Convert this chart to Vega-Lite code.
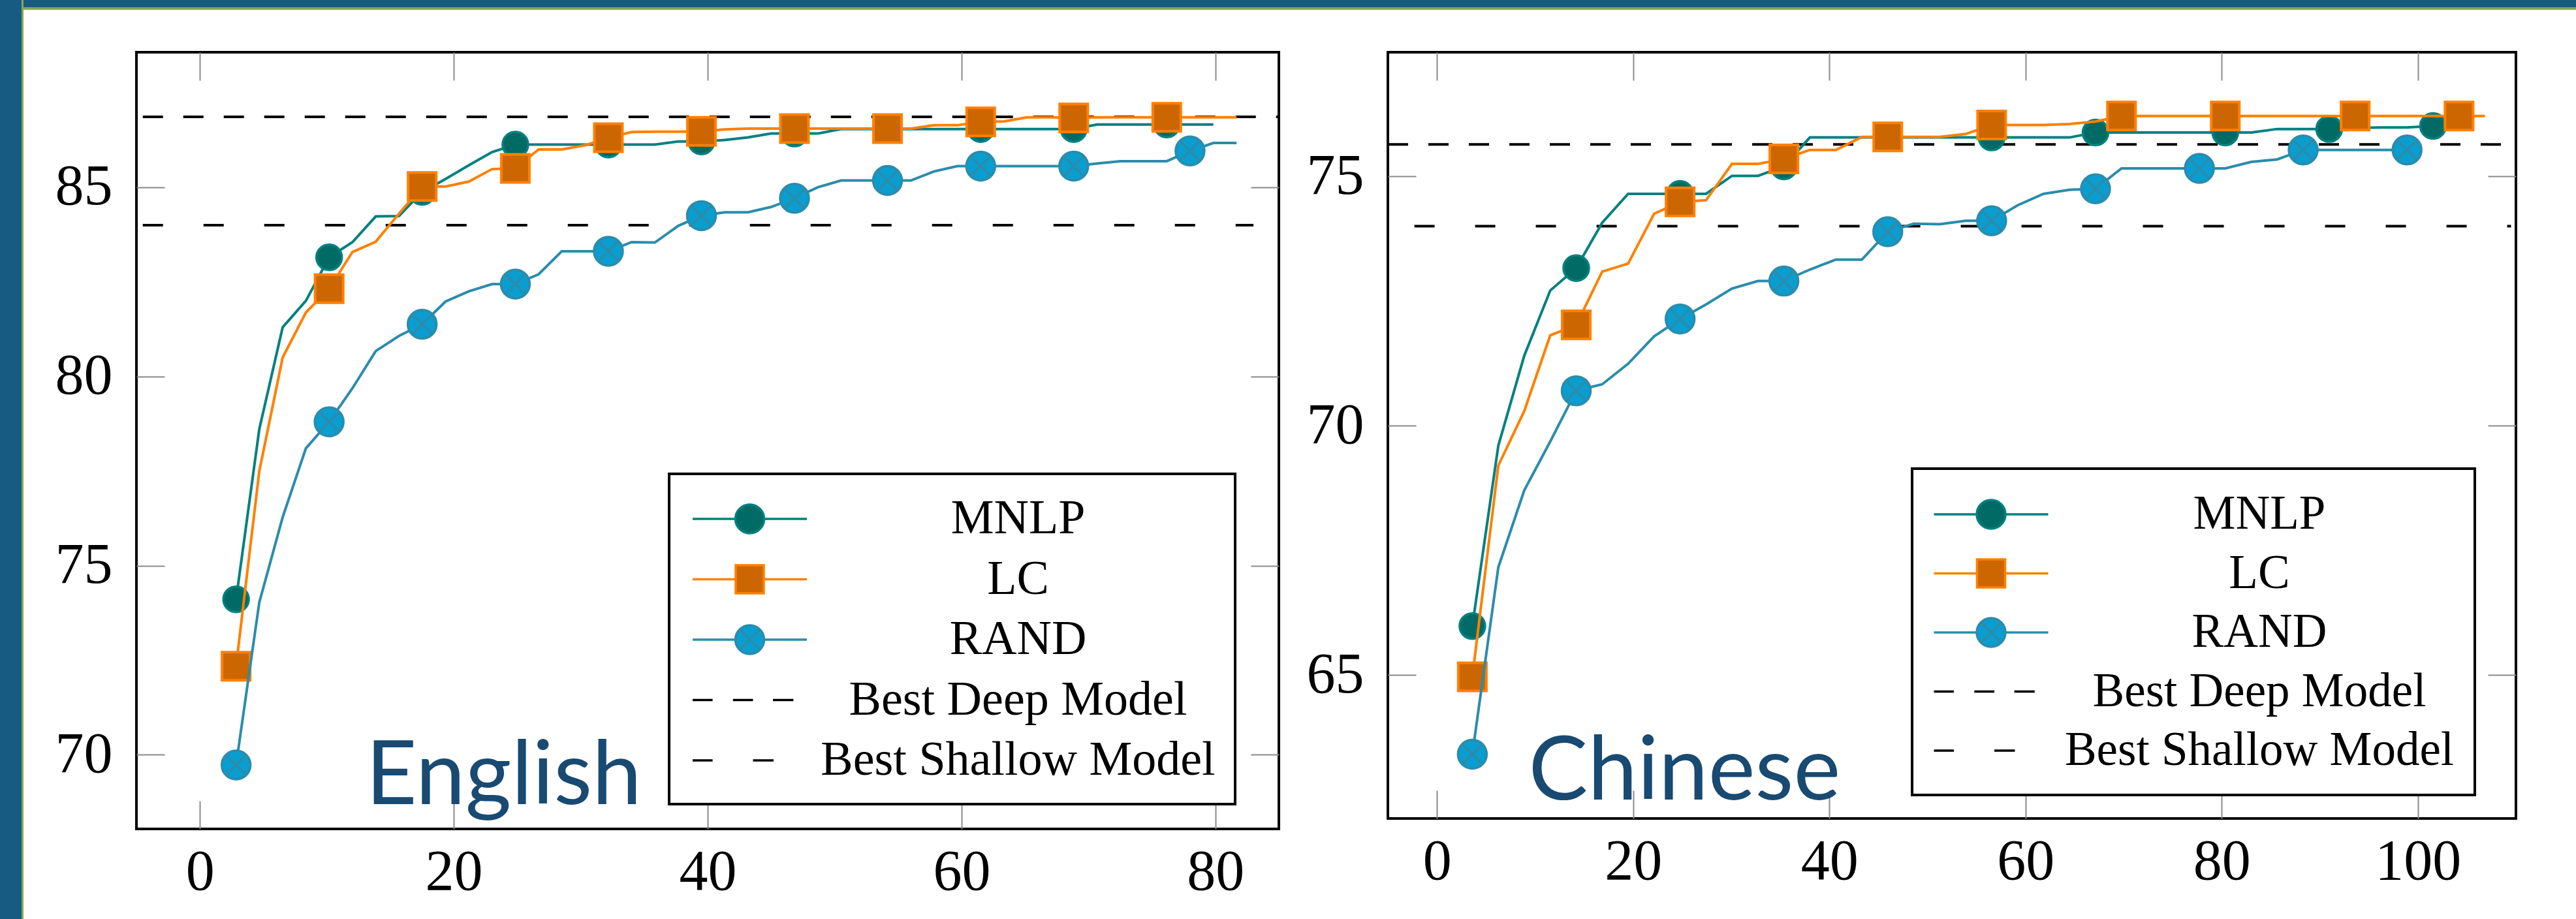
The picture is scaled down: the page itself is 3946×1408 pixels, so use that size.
{
  "$schema": "https://vega.github.io/schema/vega-lite/v6.json",
  "background": "white",
  "padding": 0,
  "config": {
    "view": {"stroke": "black", "strokeWidth": 4},
    "axis": {"grid": false, "domain": false, "tickSize": -43, "tickColor": "#8a8a8a", "tickWidth": 2, "labelFont": "Liberation Serif", "labelFontSize": 88, "labelColor": "black", "labelFlush": false, "labelOverlap": false},
    "legend": {"strokeWidth": 4}
  },
  "datasets": {
    "legend": [{"series": "MNLP"}, {"series": "LC"}, {"series": "RAND"}, {"series": "Best Deep Model"}, {"series": "Best Shallow Model"}],
    "en_ref": [{"series": "Best Deep Model", "x": -4.5, "x2": 85, "y": 86.86}, {"series": "Best Shallow Model", "x": -4.5, "x2": 83.0, "y": 84.0}],
    "zh_ref": [{"series": "Best Deep Model", "x": -5, "x2": 109.5, "y": 75.64}, {"series": "Best Shallow Model", "x": -2.3, "x2": 109.5, "y": 74.0}],
    "en_mnlp": [{"x":2.85,"y":74.11,"m":1},{"x":4.68,"y":78.61,"m":0},{"x":6.52,"y":81.3,"m":0},{"x":8.35,"y":82.0,"m":0},{"x":10.18,"y":83.15,"m":1},{"x":12.02,"y":83.55,"m":0},{"x":13.85,"y":84.23,"m":0},{"x":15.68,"y":84.24,"m":0},{"x":17.51,"y":84.88,"m":1},{"x":19.35,"y":85.22,"m":0},{"x":21.18,"y":85.58,"m":0},{"x":23.01,"y":85.93,"m":0},{"x":24.85,"y":86.13,"m":1},{"x":26.68,"y":86.13,"m":0},{"x":28.51,"y":86.13,"m":0},{"x":30.35,"y":86.13,"m":0},{"x":32.18,"y":86.13,"m":1},{"x":34.01,"y":86.13,"m":0},{"x":35.84,"y":86.13,"m":0},{"x":37.68,"y":86.21,"m":0},{"x":39.51,"y":86.21,"m":1},{"x":41.34,"y":86.25,"m":0},{"x":43.18,"y":86.32,"m":0},{"x":45.01,"y":86.42,"m":0},{"x":46.84,"y":86.42,"m":1},{"x":48.68,"y":86.42,"m":0},{"x":50.51,"y":86.54,"m":0},{"x":52.34,"y":86.54,"m":0},{"x":54.17,"y":86.54,"m":1},{"x":56.01,"y":86.54,"m":0},{"x":57.84,"y":86.54,"m":0},{"x":59.67,"y":86.54,"m":0},{"x":61.51,"y":86.54,"m":1},{"x":63.34,"y":86.54,"m":0},{"x":65.17,"y":86.54,"m":0},{"x":67.01,"y":86.54,"m":0},{"x":68.84,"y":86.54,"m":1},{"x":70.67,"y":86.66,"m":0},{"x":72.51,"y":86.66,"m":0},{"x":74.34,"y":86.66,"m":0},{"x":76.17,"y":86.66,"m":1},{"x":78.0,"y":86.66,"m":0},{"x":79.84,"y":86.66,"m":0}],
    "en_lc": [{"x":2.85,"y":72.34,"m":1},{"x":4.68,"y":77.5,"m":0},{"x":6.52,"y":80.5,"m":0},{"x":8.35,"y":81.69,"m":0},{"x":10.18,"y":82.32,"m":1},{"x":12.02,"y":83.29,"m":0},{"x":13.85,"y":83.56,"m":0},{"x":15.68,"y":84.3,"m":0},{"x":17.51,"y":85.02,"m":1},{"x":19.35,"y":85.02,"m":0},{"x":21.18,"y":85.15,"m":0},{"x":23.01,"y":85.48,"m":0},{"x":24.85,"y":85.5,"m":1},{"x":26.68,"y":86.0,"m":0},{"x":28.51,"y":86.0,"m":0},{"x":30.35,"y":86.11,"m":0},{"x":32.18,"y":86.31,"m":1},{"x":34.01,"y":86.46,"m":0},{"x":35.84,"y":86.47,"m":0},{"x":37.68,"y":86.47,"m":0},{"x":39.51,"y":86.48,"m":1},{"x":41.34,"y":86.53,"m":0},{"x":43.18,"y":86.55,"m":0},{"x":45.01,"y":86.55,"m":0},{"x":46.84,"y":86.55,"m":1},{"x":48.68,"y":86.55,"m":0},{"x":50.51,"y":86.55,"m":0},{"x":52.34,"y":86.55,"m":0},{"x":54.17,"y":86.55,"m":1},{"x":56.01,"y":86.55,"m":0},{"x":57.84,"y":86.64,"m":0},{"x":59.67,"y":86.64,"m":0},{"x":61.51,"y":86.73,"m":1},{"x":63.34,"y":86.74,"m":0},{"x":65.17,"y":86.85,"m":0},{"x":67.01,"y":86.85,"m":0},{"x":68.84,"y":86.83,"m":1},{"x":70.67,"y":86.85,"m":0},{"x":72.51,"y":86.85,"m":0},{"x":74.34,"y":86.85,"m":0},{"x":76.17,"y":86.85,"m":1},{"x":78.0,"y":86.85,"m":0},{"x":79.84,"y":86.85,"m":0},{"x":81.67,"y":86.85,"m":0}],
    "en_rand": [{"x":2.85,"y":69.73,"m":1},{"x":4.68,"y":74.03,"m":0},{"x":6.52,"y":76.28,"m":0},{"x":8.35,"y":78.1,"m":0},{"x":10.18,"y":78.8,"m":1},{"x":12.02,"y":79.69,"m":0},{"x":13.85,"y":80.67,"m":0},{"x":15.68,"y":81.07,"m":0},{"x":17.51,"y":81.38,"m":1},{"x":19.35,"y":81.98,"m":0},{"x":21.18,"y":82.25,"m":0},{"x":23.01,"y":82.44,"m":0},{"x":24.85,"y":82.44,"m":1},{"x":26.68,"y":82.7,"m":0},{"x":28.51,"y":83.31,"m":0},{"x":30.35,"y":83.31,"m":0},{"x":32.18,"y":83.31,"m":1},{"x":34.01,"y":83.55,"m":0},{"x":35.84,"y":83.54,"m":0},{"x":37.68,"y":83.98,"m":0},{"x":39.51,"y":84.25,"m":1},{"x":41.34,"y":84.34,"m":0},{"x":43.18,"y":84.34,"m":0},{"x":45.01,"y":84.48,"m":0},{"x":46.84,"y":84.71,"m":1},{"x":48.68,"y":85.0,"m":0},{"x":50.51,"y":85.18,"m":0},{"x":52.34,"y":85.18,"m":0},{"x":54.17,"y":85.18,"m":1},{"x":56.01,"y":85.18,"m":0},{"x":57.84,"y":85.42,"m":0},{"x":59.67,"y":85.56,"m":0},{"x":61.51,"y":85.56,"m":1},{"x":63.34,"y":85.56,"m":0},{"x":65.17,"y":85.56,"m":0},{"x":67.01,"y":85.56,"m":0},{"x":68.84,"y":85.56,"m":1},{"x":70.67,"y":85.63,"m":0},{"x":72.51,"y":85.69,"m":0},{"x":74.34,"y":85.69,"m":0},{"x":76.17,"y":85.69,"m":0},{"x":78.0,"y":85.96,"m":1},{"x":79.84,"y":86.17,"m":0},{"x":81.67,"y":86.17,"m":0}],
    "zh_mnlp": [{"x":3.61,"y":65.98,"m":1},{"x":6.26,"y":69.6,"m":0},{"x":8.9,"y":71.4,"m":0},{"x":11.55,"y":72.71,"m":0},{"x":14.2,"y":73.16,"m":1},{"x":16.85,"y":74.07,"m":0},{"x":19.49,"y":74.65,"m":0},{"x":22.14,"y":74.65,"m":0},{"x":24.79,"y":74.65,"m":1},{"x":27.43,"y":74.65,"m":0},{"x":30.08,"y":75.01,"m":0},{"x":32.73,"y":75.01,"m":0},{"x":35.37,"y":75.2,"m":1},{"x":38.02,"y":75.78,"m":0},{"x":40.67,"y":75.78,"m":0},{"x":43.32,"y":75.78,"m":0},{"x":45.96,"y":75.78,"m":1},{"x":48.61,"y":75.78,"m":0},{"x":51.26,"y":75.78,"m":0},{"x":53.9,"y":75.78,"m":0},{"x":56.55,"y":75.78,"m":1},{"x":59.2,"y":75.78,"m":0},{"x":61.84,"y":75.78,"m":0},{"x":64.49,"y":75.78,"m":0},{"x":67.14,"y":75.88,"m":1},{"x":69.79,"y":75.88,"m":0},{"x":72.43,"y":75.88,"m":0},{"x":75.08,"y":75.88,"m":0},{"x":77.73,"y":75.88,"m":0},{"x":80.37,"y":75.88,"m":1},{"x":83.02,"y":75.88,"m":0},{"x":85.67,"y":75.95,"m":0},{"x":88.31,"y":75.95,"m":0},{"x":90.96,"y":75.95,"m":1},{"x":93.61,"y":75.97,"m":0},{"x":96.25,"y":75.98,"m":0},{"x":98.9,"y":75.98,"m":0},{"x":101.55,"y":76.01,"m":1}],
    "zh_lc": [{"x":3.61,"y":64.96,"m":1},{"x":6.26,"y":69.2,"m":0},{"x":8.9,"y":70.29,"m":0},{"x":11.55,"y":71.81,"m":0},{"x":14.2,"y":72.02,"m":1},{"x":16.85,"y":73.09,"m":0},{"x":19.49,"y":73.25,"m":0},{"x":22.14,"y":74.25,"m":0},{"x":24.79,"y":74.49,"m":1},{"x":27.43,"y":74.52,"m":0},{"x":30.08,"y":75.25,"m":0},{"x":32.73,"y":75.25,"m":0},{"x":35.37,"y":75.35,"m":1},{"x":38.02,"y":75.53,"m":0},{"x":40.67,"y":75.53,"m":0},{"x":43.32,"y":75.79,"m":0},{"x":45.96,"y":75.79,"m":1},{"x":48.61,"y":75.79,"m":0},{"x":51.26,"y":75.79,"m":0},{"x":53.9,"y":75.85,"m":0},{"x":56.55,"y":76.03,"m":1},{"x":59.2,"y":76.03,"m":0},{"x":61.84,"y":76.03,"m":0},{"x":64.49,"y":76.05,"m":0},{"x":67.14,"y":76.1,"m":0},{"x":69.79,"y":76.21,"m":1},{"x":72.43,"y":76.21,"m":0},{"x":75.08,"y":76.21,"m":0},{"x":77.73,"y":76.21,"m":0},{"x":80.37,"y":76.21,"m":1},{"x":83.02,"y":76.21,"m":0},{"x":85.67,"y":76.21,"m":0},{"x":88.31,"y":76.21,"m":0},{"x":90.96,"y":76.21,"m":0},{"x":93.61,"y":76.21,"m":1},{"x":96.25,"y":76.21,"m":0},{"x":98.9,"y":76.21,"m":0},{"x":101.55,"y":76.21,"m":0},{"x":104.2,"y":76.21,"m":1},{"x":106.84,"y":76.21,"m":0}],
    "zh_rand": [{"x":3.61,"y":63.41,"m":1},{"x":6.26,"y":67.16,"m":0},{"x":8.9,"y":68.7,"m":0},{"x":11.55,"y":69.68,"m":0},{"x":14.2,"y":70.7,"m":1},{"x":16.85,"y":70.83,"m":0},{"x":19.49,"y":71.24,"m":0},{"x":22.14,"y":71.79,"m":0},{"x":24.79,"y":72.14,"m":1},{"x":27.43,"y":72.43,"m":0},{"x":30.08,"y":72.75,"m":0},{"x":32.73,"y":72.9,"m":0},{"x":35.37,"y":72.9,"m":1},{"x":38.02,"y":73.13,"m":0},{"x":40.67,"y":73.33,"m":0},{"x":43.32,"y":73.33,"m":0},{"x":45.96,"y":73.89,"m":1},{"x":48.61,"y":74.05,"m":0},{"x":51.26,"y":74.04,"m":0},{"x":53.9,"y":74.11,"m":0},{"x":56.55,"y":74.11,"m":1},{"x":59.2,"y":74.42,"m":0},{"x":61.84,"y":74.65,"m":0},{"x":64.49,"y":74.73,"m":0},{"x":67.14,"y":74.75,"m":1},{"x":69.79,"y":75.16,"m":0},{"x":72.43,"y":75.16,"m":0},{"x":75.08,"y":75.16,"m":0},{"x":77.73,"y":75.16,"m":1},{"x":80.37,"y":75.16,"m":0},{"x":83.02,"y":75.29,"m":0},{"x":85.67,"y":75.34,"m":0},{"x":88.31,"y":75.53,"m":1},{"x":90.96,"y":75.53,"m":0},{"x":93.61,"y":75.53,"m":0},{"x":96.25,"y":75.53,"m":0},{"x":98.9,"y":75.53,"m":1}]
  },
  "spacing": 0,
  "hconcat": [
    {"width": 33, "height": 1408, "data": {"values": [{}]}, "mark": {"type": "rect", "color": "#185b82"}, "view": {"fill": "#185b82", "stroke": null}},
    {"width": 3, "height": 1408, "data": {"values": [{}]}, "mark": {"type": "rect", "color": "#86a84c"}, "view": {"fill": "#86a84c", "stroke": null}},
    {
      "spacing": 62,
      "vconcat": [
        {
          "spacing": 0,
          "vconcat": [
            {"width": 3910, "height": 11, "data": {"values": [{}]}, "mark": {"type": "rect", "color": "#185b82"}, "view": {"fill": "#185b82", "stroke": null}},
            {"width": 3910, "height": 4, "data": {"values": [{}]}, "mark": {"type": "rect", "color": "#86a84c"}, "view": {"fill": "#86a84c", "stroke": null}}
          ]
        },
        {
          "spacing": 36,
          "resolve": {
            "scale": {"x": "independent", "y": "independent", "shape": "independent", "fill": "independent", "stroke": "independent"},
            "legend": {"shape": "independent", "fill": "independent", "stroke": "independent"}
          },
          "hconcat": [
            {"width": 10, "height": 1, "data": {"values": [{}]}, "mark": {"type": "rect", "opacity": 0}, "view": {"stroke": null}},
            {
              "width": 1750, "height": 1190,
              "view": {"fill": "white"},
              "resolve": {"axis": {"x": "independent", "y": "independent"}},
              "layer": [
                {"data": {"name": "en_ref"}, "transform": [{"filter": "datum.series == 'Best Deep Model'"}],
                 "mark": {"type": "rule", "color": "black", "strokeWidth": 4, "strokeDash": [31, 31]},
                 "encoding": {
                   "x": {"field": "x", "type": "quantitative", "scale": {"domain": [-5, 85], "nice": false, "zero": false}, "axis": {"orient": "top", "labels": false, "values": [0, 20, 40, 60, 80], "title": null}},
                   "x2": {"field": "x2"},
                   "y": {"field": "y", "type": "quantitative", "scale": {"domain": [68.04, 88.57], "nice": false, "zero": false}, "axis": {"orient": "right", "labels": false, "values": [70, 75, 80, 85], "title": null}}}},
                {"data": {"name": "en_ref"}, "transform": [{"filter": "datum.series == 'Best Shallow Model'"}],
                 "mark": {"type": "rule", "color": "black", "strokeWidth": 4, "strokeDash": [31, 62]},
                 "encoding": {
                   "x": {"field": "x", "type": "quantitative", "scale": {"domain": [-5, 85], "nice": false, "zero": false}, "axis": null},
                   "x2": {"field": "x2"},
                   "y": {"field": "y", "type": "quantitative", "scale": {"domain": [68.04, 88.57], "nice": false, "zero": false}, "axis": null}}},
                {"data": {"name": "en_mnlp"},
                 "mark": {"type": "line", "color": "#008080", "strokeWidth": 4},
                 "encoding": {
                   "x": {"field": "x", "type": "quantitative", "scale": {"domain": [-5, 85], "nice": false, "zero": false}, "axis": {"orient": "bottom", "values": [0, 20, 40, 60, 80], "title": null, "labelPadding": 65}},
                   "y": {"field": "y", "type": "quantitative", "scale": {"domain": [68.04, 88.57], "nice": false, "zero": false}, "axis": {"orient": "left", "values": [70, 75, 80, 85], "title": null, "labelPadding": 80}}}},
                {"data": {"name": "en_mnlp"}, "transform": [{"filter": "datum.m == 1"}],
                 "mark": {"type": "point", "shape": "circle", "size": 1520, "filled": true, "fill": "#006a64", "stroke": "#008080", "strokeWidth": 3.5, "opacity": 1},
                 "encoding": {
                   "x": {"field": "x", "type": "quantitative", "scale": {"domain": [-5, 85], "nice": false, "zero": false}, "axis": null},
                   "y": {"field": "y", "type": "quantitative", "scale": {"domain": [68.04, 88.57], "nice": false, "zero": false}, "axis": null}}},
                {"data": {"name": "en_lc"},
                 "mark": {"type": "line", "color": "#ff8000", "strokeWidth": 4},
                 "encoding": {
                   "x": {"field": "x", "type": "quantitative", "scale": {"domain": [-5, 85], "nice": false, "zero": false}, "axis": null},
                   "y": {"field": "y", "type": "quantitative", "scale": {"domain": [68.04, 88.57], "nice": false, "zero": false}, "axis": null}}},
                {"data": {"name": "en_lc"}, "transform": [{"filter": "datum.m == 1"}],
                 "mark": {"type": "point", "shape": "square", "size": 1849, "filled": true, "fill": "#cc6600", "stroke": "#ff8000", "strokeWidth": 4, "opacity": 1},
                 "encoding": {
                   "x": {"field": "x", "type": "quantitative", "scale": {"domain": [-5, 85], "nice": false, "zero": false}, "axis": null},
                   "y": {"field": "y", "type": "quantitative", "scale": {"domain": [68.04, 88.57], "nice": false, "zero": false}, "axis": null}}},
                {"data": {"name": "en_rand"},
                 "mark": {"type": "line", "color": "#2b8cab", "strokeWidth": 4},
                 "encoding": {
                   "x": {"field": "x", "type": "quantitative", "scale": {"domain": [-5, 85], "nice": false, "zero": false}, "axis": null},
                   "y": {"field": "y", "type": "quantitative", "scale": {"domain": [68.04, 88.57], "nice": false, "zero": false}, "axis": null}}},
                {"data": {"name": "en_rand"}, "transform": [{"filter": "datum.m == 1"}],
                 "mark": {"type": "point", "shape": "M1,0A1,1,0,1,1,-1,0A1,1,0,1,1,1,0ZM-0.707,-0.707L0.707,0.707M-0.707,0.707L0.707,-0.707", "size": 1936, "filled": true, "fill": "#0a9dcf", "stroke": "#2b8cab", "strokeWidth": 3.5, "opacity": 1},
                 "encoding": {
                   "x": {"field": "x", "type": "quantitative", "scale": {"domain": [-5, 85], "nice": false, "zero": false}, "axis": null},
                   "y": {"field": "y", "type": "quantitative", "scale": {"domain": [68.04, 88.57], "nice": false, "zero": false}, "axis": null}}},
                {"data": {"values": [{"label": "English"}]},
                 "mark": {"type": "text", "font": "Lato", "fontSize": 136, "color": "#184a72", "align": "left", "baseline": "alphabetic"},
                 "encoding": {
                   "text": {"field": "label"},
                   "x": {"datum": 13.06, "type": "quantitative", "scale": {"domain": [-5, 85], "nice": false, "zero": false}, "axis": null},
                   "y": {"datum": 68.7, "type": "quantitative", "scale": {"domain": [68.04, 88.57], "nice": false, "zero": false}, "axis": null}}},
                {"data": {"name": "legend"}, "transform": [{"filter": "datum.series == 'none'"}],
                 "mark": {"type": "point", "filled": true, "opacity": 1, "strokeWidth": 3.5},
                 "encoding": {
                   "shape": {"field": "series", "type": "nominal",
                     "scale": {"domain": ["MNLP", "LC", "RAND", "Best Deep Model", "Best Shallow Model"],
                       "range": ["M-2.365,0L-0.5946,0M0.5946,0L2.365,0M0.5946,0A0.5946,0.5946,0,1,1,-0.5946,0A0.5946,0.5946,0,1,1,0.5946,0Z",
                                 "M-2.365,0L-0.581,0M0.581,0L2.365,0M-0.581,-0.581L0.581,-0.581L0.581,0.581L-0.581,0.581Z",
                                 "M-2.365,0L-0.5946,0M0.5946,0L2.365,0M0.5946,0A0.5946,0.5946,0,1,1,-0.5946,0A0.5946,0.5946,0,1,1,0.5946,0ZM-0.4204,-0.4204L0.4204,0.4204M-0.4204,0.4204L0.4204,-0.4204",
                                 "M-2.365,0L-1.538,0M-0.695,0L0.135,0M0.962,0L1.805,0",
                                 "M-2.365,0L-1.538,0M0.135,0L0.986,0"]},
                     "legend": {"orient": "none", "legendX": 816, "legendY": 646, "title": null, "symbolSize": 5476, "symbolOffset": 54.5, "symbolStrokeWidth": 3.5, "symbolOpacity": 1, "labelFont": "Liberation Serif", "labelFontSize": 74, "labelColor": "black", "labelAlign": "center", "labelOffset": 372, "labelLimit": 2000, "rowPadding": 16.5, "padding": 30, "strokeColor": "black", "fillColor": "white"}},
                   "fill": {"field": "series", "type": "nominal",
                     "scale": {"domain": ["MNLP", "LC", "RAND", "Best Deep Model", "Best Shallow Model"], "range": ["#006a64", "#cc6600", "#0a9dcf", "transparent", "transparent"]}},
                   "stroke": {"field": "series", "type": "nominal",
                     "scale": {"domain": ["MNLP", "LC", "RAND", "Best Deep Model", "Best Shallow Model"], "range": ["#008080", "#ff8000", "#2b8cab", "black", "black"]}}}}
              ]
            },
            {
              "width": 1728, "height": 1174,
              "view": {"fill": "white"},
              "resolve": {"axis": {"x": "independent", "y": "independent"}},
              "layer": [
                {"data": {"name": "zh_ref"}, "transform": [{"filter": "datum.series == 'Best Deep Model'"}],
                 "mark": {"type": "rule", "color": "black", "strokeWidth": 4, "strokeDash": [31, 31]},
                 "encoding": {
                   "x": {"field": "x", "type": "quantitative", "scale": {"domain": [-5, 110], "nice": false, "zero": false}, "axis": {"orient": "top", "labels": false, "values": [0, 20, 40, 60, 80, 100], "title": null}},
                   "x2": {"field": "x2"},
                   "y": {"field": "y", "type": "quantitative", "scale": {"domain": [62.12, 77.49], "nice": false, "zero": false}, "axis": {"orient": "right", "labels": false, "values": [65, 70, 75], "title": null}}}},
                {"data": {"name": "zh_ref"}, "transform": [{"filter": "datum.series == 'Best Shallow Model'"}],
                 "mark": {"type": "rule", "color": "black", "strokeWidth": 4, "strokeDash": [31, 62]},
                 "encoding": {
                   "x": {"field": "x", "type": "quantitative", "scale": {"domain": [-5, 110], "nice": false, "zero": false}, "axis": null},
                   "x2": {"field": "x2"},
                   "y": {"field": "y", "type": "quantitative", "scale": {"domain": [62.12, 77.49], "nice": false, "zero": false}, "axis": null}}},
                {"data": {"name": "zh_mnlp"},
                 "mark": {"type": "line", "color": "#008080", "strokeWidth": 4},
                 "encoding": {
                   "x": {"field": "x", "type": "quantitative", "scale": {"domain": [-5, 110], "nice": false, "zero": false}, "axis": {"orient": "bottom", "values": [0, 20, 40, 60, 80, 100], "title": null, "labelPadding": 65}},
                   "y": {"field": "y", "type": "quantitative", "scale": {"domain": [62.12, 77.49], "nice": false, "zero": false}, "axis": {"orient": "left", "values": [65, 70, 75], "title": null, "labelPadding": 80}}}},
                {"data": {"name": "zh_mnlp"}, "transform": [{"filter": "datum.m == 1"}],
                 "mark": {"type": "point", "shape": "circle", "size": 1520, "filled": true, "fill": "#006a64", "stroke": "#008080", "strokeWidth": 3.5, "opacity": 1},
                 "encoding": {
                   "x": {"field": "x", "type": "quantitative", "scale": {"domain": [-5, 110], "nice": false, "zero": false}, "axis": null},
                   "y": {"field": "y", "type": "quantitative", "scale": {"domain": [62.12, 77.49], "nice": false, "zero": false}, "axis": null}}},
                {"data": {"name": "zh_lc"},
                 "mark": {"type": "line", "color": "#ff8000", "strokeWidth": 4},
                 "encoding": {
                   "x": {"field": "x", "type": "quantitative", "scale": {"domain": [-5, 110], "nice": false, "zero": false}, "axis": null},
                   "y": {"field": "y", "type": "quantitative", "scale": {"domain": [62.12, 77.49], "nice": false, "zero": false}, "axis": null}}},
                {"data": {"name": "zh_lc"}, "transform": [{"filter": "datum.m == 1"}],
                 "mark": {"type": "point", "shape": "square", "size": 1849, "filled": true, "fill": "#cc6600", "stroke": "#ff8000", "strokeWidth": 4, "opacity": 1},
                 "encoding": {
                   "x": {"field": "x", "type": "quantitative", "scale": {"domain": [-5, 110], "nice": false, "zero": false}, "axis": null},
                   "y": {"field": "y", "type": "quantitative", "scale": {"domain": [62.12, 77.49], "nice": false, "zero": false}, "axis": null}}},
                {"data": {"name": "zh_rand"},
                 "mark": {"type": "line", "color": "#2b8cab", "strokeWidth": 4},
                 "encoding": {
                   "x": {"field": "x", "type": "quantitative", "scale": {"domain": [-5, 110], "nice": false, "zero": false}, "axis": null},
                   "y": {"field": "y", "type": "quantitative", "scale": {"domain": [62.12, 77.49], "nice": false, "zero": false}, "axis": null}}},
                {"data": {"name": "zh_rand"}, "transform": [{"filter": "datum.m == 1"}],
                 "mark": {"type": "point", "shape": "M1,0A1,1,0,1,1,-1,0A1,1,0,1,1,1,0ZM-0.707,-0.707L0.707,0.707M-0.707,0.707L0.707,-0.707", "size": 1936, "filled": true, "fill": "#0a9dcf", "stroke": "#2b8cab", "strokeWidth": 3.5, "opacity": 1},
                 "encoding": {
                   "x": {"field": "x", "type": "quantitative", "scale": {"domain": [-5, 110], "nice": false, "zero": false}, "axis": null},
                   "y": {"field": "y", "type": "quantitative", "scale": {"domain": [62.12, 77.49], "nice": false, "zero": false}, "axis": null}}},
                {"data": {"values": [{"label": "Chinese"}]},
                 "mark": {"type": "text", "font": "Lato", "fontSize": 136, "color": "#184a72", "align": "left", "baseline": "alphabetic"},
                 "encoding": {
                   "text": {"field": "label"},
                   "x": {"datum": 9.34, "type": "quantitative", "scale": {"domain": [-5, 110], "nice": false, "zero": false}, "axis": null},
                   "y": {"datum": 62.5, "type": "quantitative", "scale": {"domain": [62.12, 77.49], "nice": false, "zero": false}, "axis": null}}},
                {"data": {"name": "legend"}, "transform": [{"filter": "datum.series == 'none'"}],
                 "mark": {"type": "point", "filled": true, "opacity": 1, "strokeWidth": 3.5},
                 "encoding": {
                   "shape": {"field": "series", "type": "nominal",
                     "scale": {"domain": ["MNLP", "LC", "RAND", "Best Deep Model", "Best Shallow Model"],
                       "range": ["M-2.365,0L-0.5946,0M0.5946,0L2.365,0M0.5946,0A0.5946,0.5946,0,1,1,-0.5946,0A0.5946,0.5946,0,1,1,0.5946,0Z",
                                 "M-2.365,0L-0.581,0M0.581,0L2.365,0M-0.581,-0.581L0.581,-0.581L0.581,0.581L-0.581,0.581Z",
                                 "M-2.365,0L-0.5946,0M0.5946,0L2.365,0M0.5946,0A0.5946,0.5946,0,1,1,-0.5946,0A0.5946,0.5946,0,1,1,0.5946,0ZM-0.4204,-0.4204L0.4204,0.4204M-0.4204,0.4204L0.4204,-0.4204",
                                 "M-2.365,0L-1.538,0M-0.695,0L0.135,0M0.962,0L1.805,0",
                                 "M-2.365,0L-1.538,0M0.135,0L0.986,0"]},
                     "legend": {"orient": "none", "legendX": 803, "legendY": 638, "title": null, "symbolSize": 5476, "symbolOffset": 51, "symbolStrokeWidth": 3.5, "symbolOpacity": 1, "labelFont": "Liberation Serif", "labelFontSize": 73, "labelColor": "black", "labelAlign": "center", "labelOffset": 372, "labelLimit": 2000, "rowPadding": 14.5, "padding": 31, "strokeColor": "black", "fillColor": "white"}},
                   "fill": {"field": "series", "type": "nominal",
                     "scale": {"domain": ["MNLP", "LC", "RAND", "Best Deep Model", "Best Shallow Model"], "range": ["#006a64", "#cc6600", "#0a9dcf", "transparent", "transparent"]}},
                   "stroke": {"field": "series", "type": "nominal",
                     "scale": {"domain": ["MNLP", "LC", "RAND", "Best Deep Model", "Best Shallow Model"], "range": ["#008080", "#ff8000", "#2b8cab", "black", "black"]}}}}
              ]
            }
          ]
        }
      ]
    }
  ]
}
